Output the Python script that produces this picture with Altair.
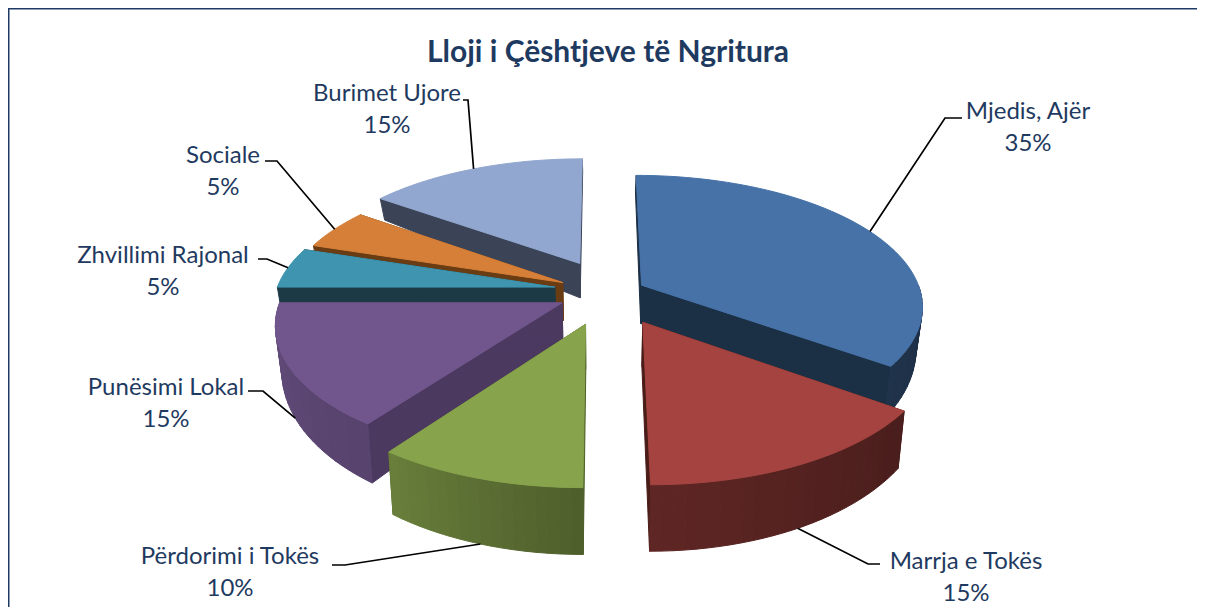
import math
import numpy as np
import altair as alt

# ---- chart values ----
TITLE = "Lloji i Çështjeve të Ngritura"
CATEGORIES = ["Mjedis, Ajër", "Marrja e Tokës", "Përdorimi i Tokës", "Punësimi Lokal",
              "Zhvillimi Rajonal", "Sociale", "Burimet Ujore"]
SHARES = [35, 15, 10, 15, 5, 5, 15]

# ---- styles ----
TOP = ["#4672A8", "#A4433F", "#87A34C", "#70568C", "#3F95AF", "#D57F38", "#92A7CF"]
RADIAL = ["#1B2F45", "#4A1C18", "#4F6128", "#4B3960", "#1B3A46", "#6A3C14", "#3B4357"]
TEXT = "#1F3A60"
FRAME = "#1F3A64"

# ---- layout: pie model (explosion in pie radii, per slice) ----
EXPLODE = [(.15, -.077), (.148, .205), (-.05, .22), (-.134, .06),
           (-.163, -.062), (-.135, -.098), (-.075, -.254)]
CX, CY, RX, RY, P = 600 - 8, 295 - 8, 280, 129, .15
LABEL_POS = [(1028, 112), (966, 562), (230, 557), (166, 388), (163, 256), (223, 156), (387, 94)]
PCT_DY = [32, 32, 32, 32, 32, 32, 32]
ELBOWS = [[(945, 118), (962, 118)], [(868, 564), (880, 564)], [(345, 565), (332, 565)],
          [(263, 391), (248, 391)], [(267, 259), (258, 259)], [(277, 161), (265, 161)],
          [(468, 100), (463, 100)]]
PAINT_ORDER = [6, 5, 4, 3, 0, 2, 1]
LEADER_ON_BOTTOM = {1, 2, 3}


def project(X, Y, bottom=False):
    f = 1 / (1 - P * Y)
    sx, sy = CX + RX * X * f, CY + RY * Y * f
    if bottom:
        sy += 40 + 22 * Y
        sx = CX + (sx - CX) * .98
    return [round(sx, 2), round(sy, 2)]


def rim(i, deg):
    th = math.radians(deg)
    return EXPLODE[i][0] + math.sin(th), EXPLODE[i][1] - math.cos(th)


def shade(hexcol, factor):
    r, g, b = (int(hexcol[k:k + 2], 16) for k in (1, 3, 5))
    return "#%02x%02x%02x" % (int(r * factor), int(g * factor), int(b * factor))


def poly(points, fill):
    ring = points + [points[0]]
    return {"type": "Feature", "properties": {"fill": fill},
            "geometry": {"type": "Polygon", "coordinates": [ring]}}


edges = np.cumsum([0] + SHARES) * 3.6
features = []
for i in PAINT_ORDER:
    a0, a1 = edges[i], edges[i + 1]
    angs = np.linspace(a0, a1, max(2, int((a1 - a0) / 2) + 1))
    apex = EXPLODE[i]
    # radial faces
    for a in (a0, a1):
        p = rim(i, a)
        features.append(poly([project(*apex), project(*p), project(*p, bottom=True),
                              project(*apex, bottom=True)], RADIAL[i]))
    # outer wall, front part only, shaded by angle
    for u, v in zip(angs[:-1], angs[1:]):
        m = (u + v) / 2
        if 90 <= m <= 270:
            k = float(np.interp(m, [90, 126, 180, 216, 270], [.40, .45, .58, .78, .88]))
            pu, pv = rim(i, u), rim(i, v)
            features.append(poly([project(*pu), project(*pv), project(*pv, bottom=True),
                                  project(*pu, bottom=True)], shade(TOP[i], k)))
    # top surface
    features.append(poly([project(*apex)] + [project(*rim(i, a)) for a in angs], TOP[i]))

lon, lat = alt.Longitude("x:Q"), alt.Latitude("y:Q")

pie = alt.Chart(alt.Data(values=features)).mark_geoshape(strokeWidth=1).encode(
    fill=alt.Fill("properties.fill:N", scale=None),
    stroke=alt.Stroke("properties.fill:N", scale=None),
)

leaders = []
for i, name in enumerate(CATEGORIES):
    mid = (edges[i] + edges[i + 1]) / 2
    pts = [project(*rim(i, mid), bottom=i in LEADER_ON_BOTTOM)]
    pts += [[x - 8, y - 8] for x, y in ELBOWS[i]]
    for k, (x, y) in enumerate(pts):
        leaders.append({"name": name, "k": k, "x": x, "y": y})
leader_layer = alt.Chart(alt.Data(values=leaders)).mark_line(
    color="black", strokeWidth=1.7
).encode(longitude=lon, latitude=lat, detail="name:N", order="k:Q")

labels = []
for i, name in enumerate(CATEGORIES):
    x, y = LABEL_POS[i]
    labels.append({"t": name, "x": x - 8, "y": y - 8})
    labels.append({"t": f"{SHARES[i]}%", "x": x - 8, "y": y + PCT_DY[i] - 8})
label_layer = alt.Chart(alt.Data(values=labels)).mark_text(
    font="Lato", fontSize=24, color=TEXT, align="center", baseline="middle"
).encode(longitude=lon, latitude=lat, text="t:N")

title_layer = alt.Chart(alt.Data(values=[{"t": TITLE, "x": 600, "y": 45}])).mark_text(
    font="Lato", fontSize=30, fontWeight="bold", color=TEXT, align="center", baseline="middle"
).encode(longitude=lon, latitude=lat, text="t:N")

frame_pts = [{"k": 0, "x": .75, "y": 599}, {"k": 1, "x": .75, "y": .75}, {"k": 2, "x": 1189, "y": .75}]
frame = alt.Chart(alt.Data(values=frame_pts)).mark_line(color=FRAME, strokeWidth=1.5).encode(
    longitude=lon, latitude=lat, order="k:Q")

chart = alt.layer(frame, pie, leader_layer, label_layer, title_layer).project(
    type="identity", scale=1, translate=[0, 0]
).properties(
    width=1189, height=599, padding=0, autosize=alt.AutoSizeParams(type="none"), background="white"
).configure_view(stroke=None)

chart.save("out.html", embed_options={"renderer": "svg", "actions": False})
